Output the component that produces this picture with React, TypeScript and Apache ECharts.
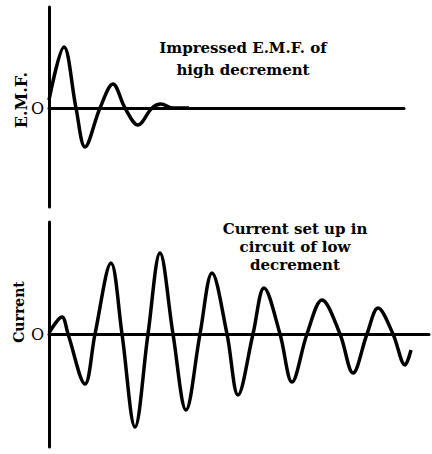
import React, { useEffect, useRef } from "react";
import * as echarts from "echarts";

// Impressed E.M.F. (high decrement): [time, value]
const emfPoints: [number, number][] = [
  [0, 8], [15, 61], [27, 0], [36, -39], [51, 0], [64, 24], [76, 0],
  [89, -17], [103, 0], [112, 4], [124, 0], [140, 0],
];

// Current set up in circuit of low decrement
const currentPoints: [number, number][] = [
  [0, 1], [13, 17], [19, 0], [36, -50], [46, 0], [62, 71], [73, 0],
  [86, -93], [99, 0], [111, 81], [124, 0], [137, -76], [151, 0],
  [163, 61], [178, 0], [189, -61], [204, 0], [215, 46], [231, 0],
  [243, -48], [258, 0], [273, 34], [291, 0], [304, -39], [318, 0],
  [329, 26], [344, 0], [356, -31], [362, -16],
];

const topTitle = "Impressed E.M.F. of\nhigh decrement";
const bottomTitle = "Current set up in\ncircuit of low\ndecrement";
const topAxisName = "E.M.F.";
const bottomAxisName = "Current";
const zeroLabel = "O";

const FONT = "DejaVu Serif";

export default function App() {
  const ref = useRef<HTMLDivElement>(null);
  useEffect(() => {
    if (!ref.current) return;
    const chart = echarts.init(ref.current, undefined, { renderer: "svg" });
    const axisLine = { show: true, onZero: true, lineStyle: { color: "#000", width: 3 } };
    const yAxisCommon = {
      type: "value" as const,
      splitLine: { show: false },
      axisTick: { show: false },
      axisLine: { show: true, lineStyle: { color: "#000", width: 3 } },
      axisLabel: {
        customValues: [0],
        formatter: () => zeroLabel,
        color: "#000",
        fontFamily: FONT,
        fontSize: 16,
        margin: 5,
      },
    };
    const xAxisCommon = {
      type: "value" as const,
      min: 0,
      splitLine: { show: false },
      axisTick: { show: false },
      axisLabel: { show: false },
      axisLine,
    };
    chart.setOption({
      animation: false,
      backgroundColor: "#fff",
      title: [
        {
          text: topTitle,
          left: 238,
          top: 32,
          textAlign: "center",
          textStyle: { fontFamily: FONT, fontWeight: "bold", fontSize: 15, lineHeight: 22, color: "#000" },
        },
        {
          text: bottomTitle,
          left: 290,
          top: 215,
          textAlign: "center",
          textStyle: { fontFamily: FONT, fontWeight: "bold", fontSize: 15, lineHeight: 18, color: "#000" },
        },
      ],
      grid: [
        { left: 49, top: 7, width: 355, height: 200 },
        { left: 49, top: 222, width: 380, height: 225 },
      ],
      xAxis: [
        { ...xAxisCommon, gridIndex: 0, max: 355 },
        { ...xAxisCommon, gridIndex: 1, max: 380 },
      ],
      yAxis: [
        { ...yAxisCommon, gridIndex: 0, min: -99, max: 101 },
        { ...yAxisCommon, gridIndex: 1, min: -113, max: 112 },
      ],
      graphic: [
        {
          type: "text",
          x: 21,
          y: 100,
          rotation: Math.PI / 2,
          style: {
            text: topAxisName,
            fontFamily: FONT,
            fontWeight: "bold",
            fontSize: 16,
            fill: "#000",
            align: "center",
            verticalAlign: "middle",
          },
        },
        {
          type: "text",
          x: 19,
          y: 312,
          rotation: Math.PI / 2,
          style: {
            text: bottomAxisName,
            fontFamily: FONT,
            fontWeight: "bold",
            fontSize: 14,
            fill: "#000",
            align: "center",
            verticalAlign: "middle",
          },
        },
      ],
      series: [
        {
          type: "line",
          xAxisIndex: 0,
          yAxisIndex: 0,
          data: emfPoints,
          smooth: 0.35,
          symbol: "none",
          lineStyle: { color: "#000", width: 3.5 },
        },
        {
          type: "line",
          xAxisIndex: 1,
          yAxisIndex: 1,
          data: currentPoints,
          smooth: 0.35,
          symbol: "none",
          lineStyle: { color: "#000", width: 3.5 },
        },
      ],
    });
    return () => chart.dispose();
  }, []);
  return (
    <div
      ref={ref}
      style={{ position: "fixed", left: 0, top: 0, width: 432, height: 454, background: "#fff" }}
    />
  );
}
